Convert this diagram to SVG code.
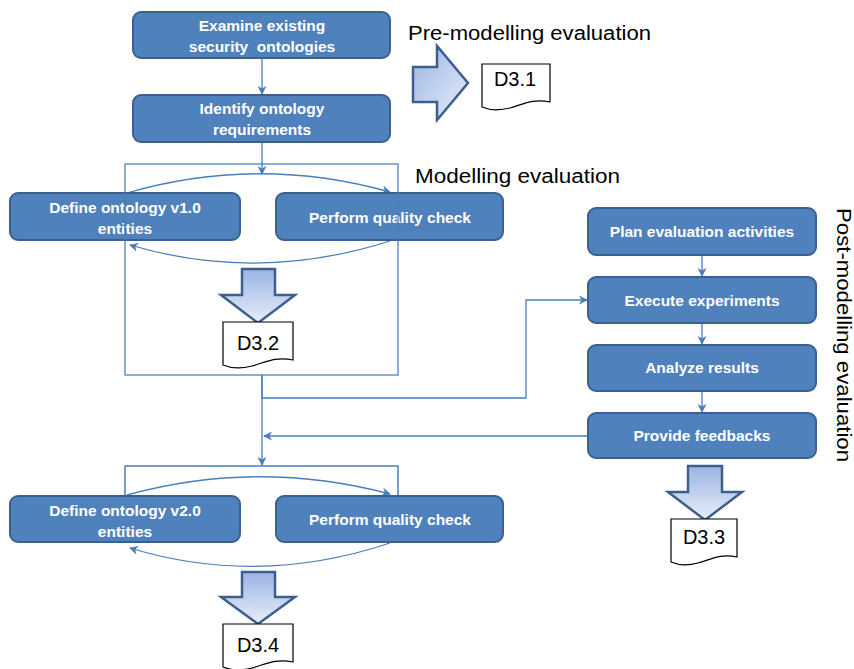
<svg xmlns="http://www.w3.org/2000/svg" width="854" height="669" viewBox="0 0 854 669">
<style>
.box{fill:#4F81BD;stroke:#3A6190;stroke-width:2}
.bt{font-family:"Liberation Sans",Arial,sans-serif;font-weight:bold;font-size:15.5px;fill:#fff;text-anchor:middle;white-space:pre}
.con{fill:none;stroke:#4A7EBB;stroke-width:1.3}
.frame{fill:none;stroke:#4A7EBB;stroke-width:1.5}
.fat{stroke:#3C5F8E;stroke-width:2.5;stroke-linejoin:miter}
.doc{fill:#fff;stroke:#000;stroke-width:1.2}
.dt{font-family:"Liberation Sans",Arial,sans-serif;font-size:20px;fill:#000;text-anchor:middle}
.lbl{font-family:"Liberation Sans",Arial,sans-serif;font-size:20px;fill:#000}
</style>
<defs>
<marker id="ah" viewBox="0 0 10 10" refX="9" refY="5" markerWidth="9" markerHeight="9" markerUnits="userSpaceOnUse" orient="auto">
<path d="M0,0 L10,5 L0,10 L3,5 z" fill="#4A7EBB"/>
</marker>
<linearGradient id="gv" x1="0" y1="0" x2="0" y2="1">
<stop offset="0" stop-color="#9BB4E3"/>
<stop offset="1" stop-color="#E8EEF9"/>
</linearGradient>
<linearGradient id="gh" x1="0" y1="0" x2="1" y2="1">
<stop offset="0" stop-color="#9BB4E3"/>
<stop offset="1" stop-color="#E8EEF9"/>
</linearGradient>
</defs>

<!-- labels -->
<text class="lbl" x="408" y="40" textLength="243" lengthAdjust="spacingAndGlyphs">Pre-modelling evaluation</text>
<text class="lbl" x="415" y="183" textLength="205" lengthAdjust="spacingAndGlyphs">Modelling evaluation</text>
<text class="lbl" transform="translate(837,208) rotate(90)" x="0" y="0" textLength="254" lengthAdjust="spacingAndGlyphs">Post-modelling evaluation</text>

<!-- connectors -->
<g id="connectors">
<path class="con" d="M262,58 V94" marker-end="url(#ah)"/>
<path class="con" d="M262,142 V174" marker-end="url(#ah)"/>
<path class="con" d="M127,193 Q258,155 390,192" marker-end="url(#ah)"/>
<path class="con" d="M390,241 Q258,283 130,245" marker-end="url(#ah)"/>
<path class="con" d="M262,375 V398 H526 V300 H587" marker-end="url(#ah)"/>
<path class="con" d="M262,375 V465" marker-end="url(#ah)"/>
<path class="con" d="M588,436 H264" marker-end="url(#ah)"/>
<path class="con" d="M127,495 Q258,459 390,494" marker-end="url(#ah)"/>
<path class="con" d="M390,543 Q258,587 130,548" marker-end="url(#ah)"/>
<path class="con" d="M702,255 V276" marker-end="url(#ah)"/>
<path class="con" d="M702,323 V344" marker-end="url(#ah)"/>
<path class="con" d="M702,391 V412" marker-end="url(#ah)"/>
<path class="frame" d="M125,496 V466 H398 V496"/>
</g>

<!-- nodes -->
<g id="examine">
<rect class="box" x="133" y="12" width="257" height="46" rx="8"/>
<text class="bt" x="262" y="31">Examine existing</text>
<text class="bt" x="262" y="52" xml:space="preserve">security  ontologies</text>
</g>
<g id="identify">
<rect class="box" x="133" y="95" width="257" height="47" rx="8"/>
<text class="bt" x="262" y="114">Identify ontology</text>
<text class="bt" x="262" y="135">requirements</text>
</g>
<g id="define1">
<rect class="box" x="10" y="193" width="230" height="47" rx="8"/>
<text class="bt" x="125" y="213">Define ontology v1.0</text>
<text class="bt" x="125" y="234">entities</text>
</g>
<g id="quality1">
<rect class="box" x="276" y="193" width="227" height="47" rx="8"/>
<text class="bt" x="390" y="223">Perform quality check</text>
</g>
<g id="frame1">
<rect class="frame" x="125" y="164" width="273" height="211" stroke-opacity="0.85"/>
</g>
<g id="define2">
<rect class="box" x="10" y="496" width="230" height="46" rx="8"/>
<text class="bt" x="125" y="516">Define ontology v2.0</text>
<text class="bt" x="125" y="537">entities</text>
</g>
<g id="quality2">
<rect class="box" x="276" y="496" width="227" height="46" rx="8"/>
<text class="bt" x="390" y="525">Perform quality check</text>
</g>
<g id="plan">
<rect class="box" x="588" y="208" width="228" height="47" rx="8"/>
<text class="bt" x="702" y="237">Plan evaluation activities</text>
</g>
<g id="execute">
<rect class="box" x="588" y="277" width="228" height="46" rx="8"/>
<text class="bt" x="702" y="306">Execute experiments</text>
</g>
<g id="analyze">
<rect class="box" x="588" y="345" width="228" height="46" rx="8"/>
<text class="bt" x="702" y="373">Analyze results</text>
</g>
<g id="feedback">
<rect class="box" x="588" y="413" width="228" height="45" rx="8"/>
<text class="bt" x="702" y="441">Provide feedbacks</text>
</g>

<!-- outputs -->
<g id="arrow-d31">
<polygon class="fat" fill="url(#gh)" points="413,67 437,67 437,46 468,83 437,120 437,102 413,102"/>
</g>
<g id="d31">
<path class="doc" d="M482,64 h68 v38 c-18,-4 -28,3 -40,6 c-12,3 -21,2 -28,-1 z"/>
<text class="dt" x="515" y="86">D3.1</text>
</g>
<g id="arrow-d32">
<polygon class="fat" fill="url(#gv)" points="242,269 275,269 275,295 295,295 258,323 221,295 242,295"/>
</g>
<g id="d32">
<path class="doc" d="M223,322 h70 v38 c-18,-4 -29,3 -41,6 c-12,3 -22,2 -29,-1 z"/>
<text class="dt" x="258" y="350">D3.2</text>
</g>
<g id="arrow-d33">
<polygon class="fat" fill="url(#gv)" points="688,466 722,466 722,492 742,492 705,520 668,492 688,492"/>
</g>
<g id="d33">
<path class="doc" d="M671,519 h66 v38 c-17,-4 -27,3 -39,6 c-11,3 -20,2 -27,-1 z"/>
<text class="dt" x="704" y="544">D3.3</text>
</g>
<g id="arrow-d34">
<polygon class="fat" fill="url(#gv)" points="242,572 275,572 275,597 295,597 258,624 221,597 242,597"/>
</g>
<g id="d34">
<path class="doc" d="M223,624 h70 v38 c-18,-4 -29,3 -41,6 c-12,3 -22,2 -29,-1 z"/>
<text class="dt" x="258" y="652">D3.4</text>
</g>
</svg>
